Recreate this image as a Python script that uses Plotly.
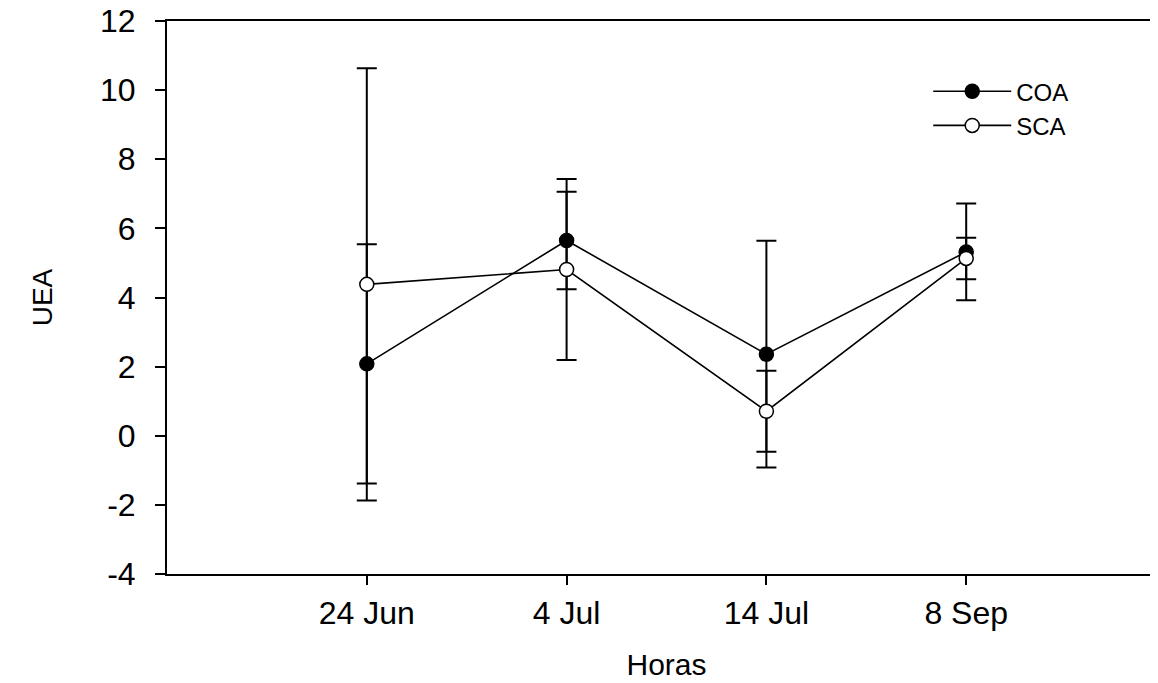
import plotly.graph_objects as go

dates = ["24 Jun", "4 Jul", "14 Jul", "8 Sep"]
x_pos = [1, 2, 3, 4]

coa_mean = [2.08, 5.65, 2.36, 5.32]
coa_err = [3.46, 1.41, 3.28, 1.40]

sca_mean = [4.38, 4.81, 0.71, 5.13]
sca_err = [6.25, 2.62, 1.17, 0.60]

y_ticks = [-4, -2, 0, 2, 4, 6, 8, 10, 12]
y_tick_text = [str(v) for v in y_ticks]

FONT = "Liberation Sans, Arial, sans-serif"

fig = go.Figure()

fig.add_trace(go.Scatter(
    x=x_pos, y=coa_mean, name="COA", mode="lines+markers",
    line=dict(color="black", width=1.6),
    marker=dict(symbol="circle", size=14, color="black",
                line=dict(color="black", width=1.5)),
    error_y=dict(type="data", array=coa_err, visible=True,
                 color="black", thickness=2, width=10),
))

fig.add_trace(go.Scatter(
    x=x_pos, y=sca_mean, name="SCA", mode="lines+markers",
    line=dict(color="black", width=1.6),
    marker=dict(symbol="circle", size=14, color="white",
                line=dict(color="black", width=1.5)),
    error_y=dict(type="data", array=sca_err, visible=True,
                 color="black", thickness=2, width=10),
))

fig.update_layout(
    width=1158, height=683,
    margin=dict(l=159, r=0, t=13, b=117, autoexpand=False),
    paper_bgcolor="white", plot_bgcolor="white",
    font=dict(family=FONT, size=32, color="black"),
    showlegend=True,
    legend=dict(
        x=0.762, y=0.913, xanchor="left", yanchor="top",
        bgcolor="rgba(0,0,0,0)", font=dict(size=24, family=FONT),
        itemwidth=78, tracegroupgap=0,
    ),
    xaxis=dict(
        range=[0, 5], automargin=False,
        tickmode="array", tickvals=x_pos, ticktext=dates,
        showline=True, linecolor="black", linewidth=2, mirror=True,
        ticks="outside", ticklen=9, tickwidth=2, tickcolor="black",
        ticklabelstandoff=1, ticklabeloverflow="allow",
        showgrid=False, zeroline=False,
        title=dict(text="Horas", font=dict(size=30, family=FONT), standoff=24),
    ),
    yaxis=dict(
        range=[-4, 12], automargin=False,
        tickmode="array", tickvals=y_ticks, ticktext=y_tick_text,
        showline=True, linecolor="black", linewidth=2, mirror=False,
        ticks="outside", ticklen=10, tickwidth=2, tickcolor="black",
        ticklabelstandoff=13, ticklabeloverflow="allow",
        showgrid=False, zeroline=False,
        title=dict(text="UEA", font=dict(size=28, family=FONT), standoff=39),
    ),
)

fig.write_html("out.html")
